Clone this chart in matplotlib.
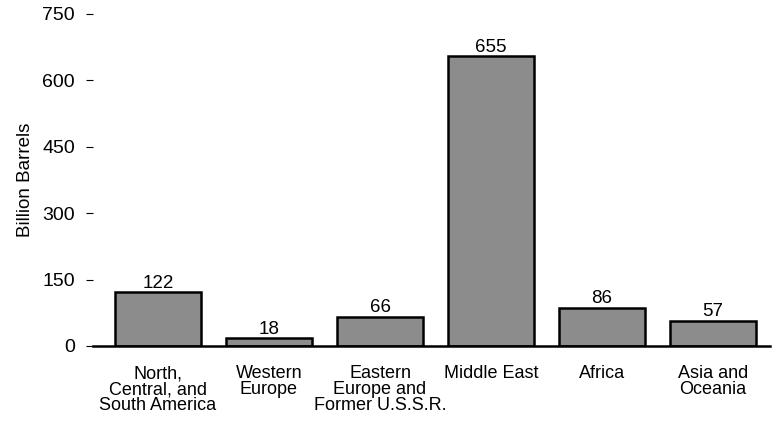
import numpy as np
import matplotlib
matplotlib.use("Agg")
import matplotlib.pyplot as plt

plt.rcParams['font.family'] = ['Liberation Sans', 'DejaVu Sans']

# Data
regions = ["North,\nCentral, and\nSouth America", "Western\nEurope",
           "Eastern\nEurope and\nFormer U.S.S.R.", "Middle East",
           "Africa", "Asia and\nOceania"]
reserves = [122, 18, 66, 655, 86, 57]
yticks = [0, 150, 300, 450, 600, 750]

fig = plt.figure(figsize=(7.72, 4.24), dpi=100)
ax = fig.add_axes([0.1205, 0.184, 0.8765, 0.783])

x = np.arange(len(regions))
bars = ax.bar(x, reserves, width=0.77, color='#8c8c8c', edgecolor='black', linewidth=1.8, zorder=2)

# Value labels above bars
for xi, v in zip(x, reserves):
    ax.text(xi, v + 1, str(v), ha='center', va='bottom', fontsize=13.5)

ax.set_xlim(-0.585, 5.51)
ax.set_ylim(0, 750)
ax.set_yticks(yticks)
ax.set_xticks(x)
ax.set_xticklabels(regions, fontsize=13, linespacing=0.92)
ax.tick_params(axis='y', direction='out', length=5, width=0.8, pad=8, labelsize=14)
ax.tick_params(axis='x', direction='in', length=3, width=0.8, pad=14)

for s in ['top', 'right', 'left']:
    ax.spines[s].set_visible(False)
ax.spines['bottom'].set_linewidth(1.8)
ax.spines['bottom'].set_zorder(3)

ax.set_ylabel('Billion Barrels', fontsize=13.5, labelpad=6)

fig.savefig("out.png", dpi=100)
